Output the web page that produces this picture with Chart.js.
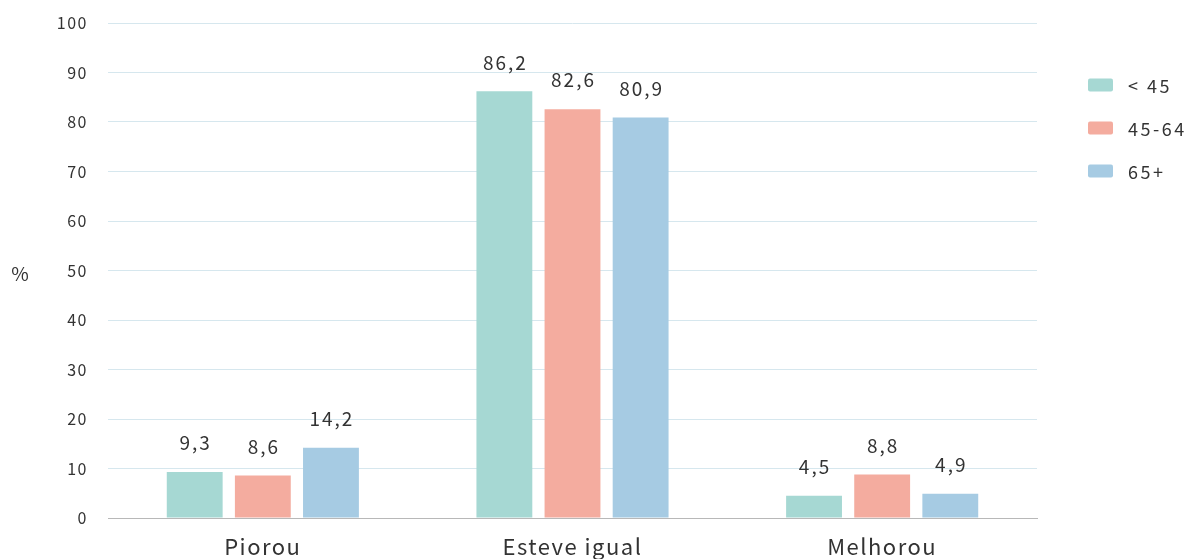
<!DOCTYPE html>
<html>
<head>
<meta charset="utf-8">
<script src="https://cdn.jsdelivr.net/npm/chart.js@4/dist/chart.umd.min.js"></script>
<style>
  html, body { margin: 0; padding: 0; background: #ffffff; overflow: hidden; }
  canvas { display: block; }
</style>
</head>
<body>
<canvas id="chart" width="1194" height="559"></canvas>
<script>
const categories = ['Piorou', 'Esteve igual', 'Melhorou'];
const groupNames = ['< 45', '45-64', '65+'];
const under45 = [9.3, 86.2, 4.5];
const from45to64 = [8.6, 82.6, 8.8];
const over65 = [14.2, 80.9, 4.9];
const yTicks = [0, 10, 20, 30, 40, 50, 60, 70, 80, 90, 100];
const colors = ['#a6d8d3', '#f4ac9f', '#a6cbe3'];

const FONT = '"Noto Sans CJK KR", "Noto Sans", sans-serif';
const TEXT = '#333333';

// Spaced-out lettering used across the whole chart
const spacing = {
  id: 'spacing',
  beforeDraw(chart) { chart.ctx.letterSpacing = '1.5px'; }
};

// Value labels above each bar, decimal comma
const valueLabels = {
  id: 'valueLabels',
  afterDatasetsDraw(chart) {
    const ctx = chart.ctx;
    ctx.save();
    ctx.letterSpacing = '2px';
    ctx.font = '19px ' + FONT;
    ctx.fillStyle = TEXT;
    ctx.textAlign = 'center';
    ctx.textBaseline = 'middle';
    chart.data.datasets.forEach((ds, i) => {
      chart.getDatasetMeta(i).data.forEach((bar, j) => {
        ctx.fillText(ds.data[j].toFixed(1).replace('.', ','), bar.x + 1, bar.y - 29);
      });
    });
    ctx.restore();
  }
};

// "%" unit at the left and the legend on the right
const extras = {
  id: 'extras',
  afterDraw(chart) {
    const ctx = chart.ctx;
    ctx.save();
    ctx.letterSpacing = '2px';
    ctx.fillStyle = TEXT;
    ctx.font = '19px ' + FONT;
    ctx.textAlign = 'center';
    ctx.textBaseline = 'middle';
    ctx.fillText('%', 21, 274);
    ctx.textAlign = 'left';
    ctx.font = '18px ' + FONT;
    chart.data.datasets.forEach((ds, i) => {
      const y = 85 + i * 43;
      ctx.fillStyle = ds.backgroundColor;
      ctx.beginPath();
      ctx.roundRect(1088, y - 6.5, 25, 13, 2);
      ctx.fill();
      ctx.fillStyle = TEXT;
      ctx.letterSpacing = '2.5px';
      ctx.fillText(ds.label, 1128, y + 1);
    });
    ctx.restore();
  }
};

const series = [under45, from45to64, over65];

new Chart(document.getElementById('chart'), {
  type: 'bar',
  data: {
    labels: categories,
    datasets: series.map((d, i) => ({
      label: groupNames[i],
      data: d,
      backgroundColor: colors[i],
      borderWidth: 0,
      barPercentage: 0.82,
      categoryPercentage: 0.66
    }))
  },
  options: {
    responsive: false,
    animation: false,
    devicePixelRatio: 1,
    layout: { autoPadding: false, padding: { top: 23, right: 157, bottom: 0, left: 0 } },
    plugins: {
      legend: { display: false },
      tooltip: { enabled: false }
    },
    scales: {
      x: {
        grid: { display: false },
        border: { display: true, color: '#b8b8b8', width: 1 },
        ticks: { color: TEXT, font: { family: FONT, size: 22 }, padding: 7 },
        afterFit(scale) { scale.height = 41; }
      },
      y: {
        min: 0,
        max: 100,
        afterBuildTicks(scale) { scale.ticks = yTicks.map(v => ({ value: v })); },
        grid: {
          drawTicks: false,
          color: ctx => ctx.tick && ctx.tick.value === 0 ? '#b8b8b8' : '#d6e7ee',
          lineWidth: 1
        },
        border: { display: false },
        ticks: { color: TEXT, font: { family: FONT, size: 16 }, padding: 20 },
        afterFit(scale) {
          scale.width = 108;
          scale.paddingTop = 0;
          scale.paddingBottom = 0;
        }
      }
    }
  },
  plugins: [spacing, valueLabels, extras]
});
</script>
</body>
</html>
